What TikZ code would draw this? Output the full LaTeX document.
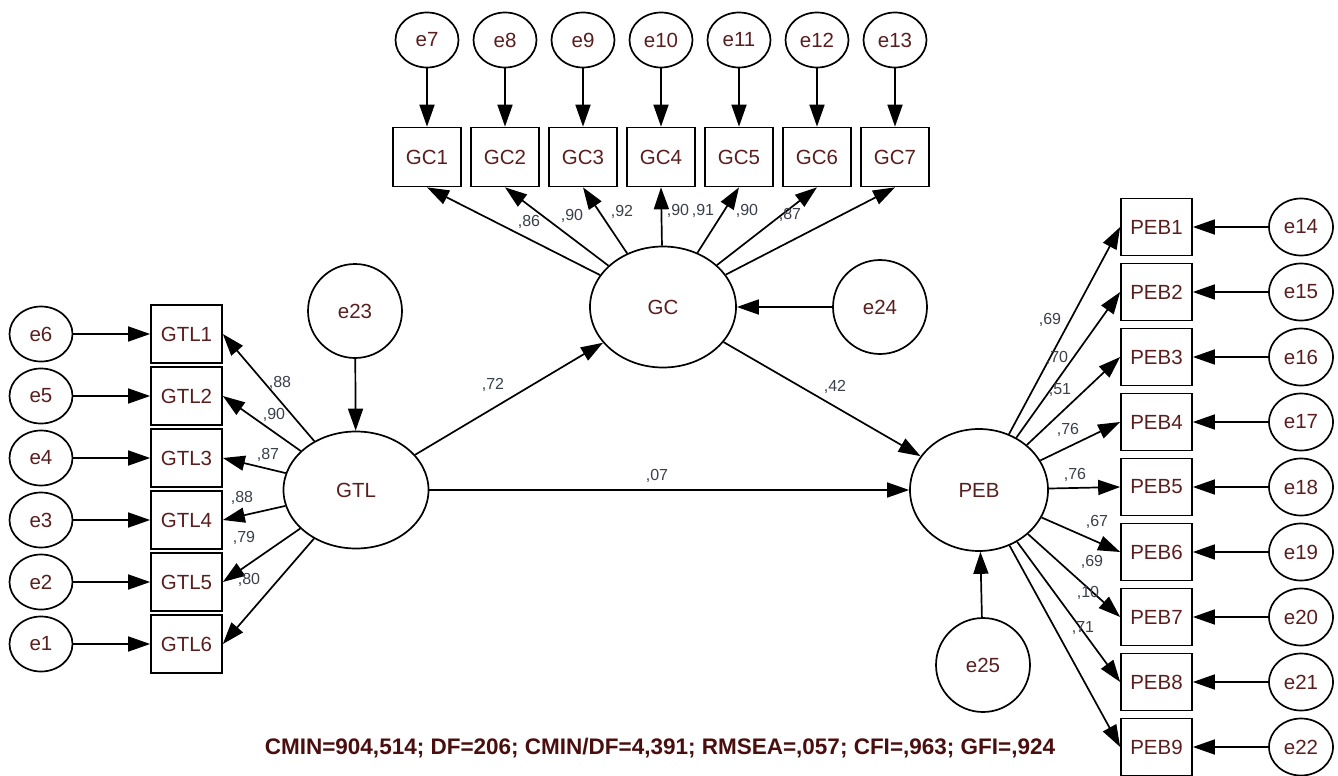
\documentclass[tikz,border=0pt]{standalone}
\usepackage{fontspec}
\setmainfont{Liberation Sans}
\usetikzlibrary{arrows.meta,shapes.geometric}
\definecolor{nodetxt}{HTML}{5A1E1E}
\definecolor{lbltxt}{HTML}{3A3F4A}
\definecolor{fittxt}{HTML}{4A0E0E}
\begin{document}
\begin{tikzpicture}[x=1pt,y=-1pt,
  obs/.style={draw, line width=1.7pt, minimum width=68pt, minimum height=59pt, inner sep=0pt, text=nodetxt, font=\fontsize{20.5}{20.5}\selectfont},
  lat/.style={draw, ellipse, line width=1.7pt, inner sep=0pt, text=nodetxt, font=\fontsize{20.5}{20.5}\selectfont},
  errs/.style={draw, ellipse, line width=1.7pt, minimum width=63pt, minimum height=55pt, inner sep=0pt, text=nodetxt, font=\fontsize{20.5}{20.5}\selectfont},
  errbig/.style={errs, minimum width=94pt, minimum height=94pt},
  arr/.style={-{Triangle[length=22pt,width=15pt]}, line width=1.7pt},
  coef/.style={text=lbltxt, font=\fontsize{16}{16}\selectfont, inner sep=0pt}
]
\useasboundingbox (0,0) rectangle (1338,776);
% latent variables
\node[lat, minimum width=146pt, minimum height=121pt] (GC) at (663,307) {GC};
\node[lat, minimum width=145pt, minimum height=117pt] (GTL) at (356,490) {GTL};
\node[lat, minimum width=138pt, minimum height=122pt] (PEB) at (979,490) {PEB};
\node[errbig] (e23) at (355,311) {e23};
\node[errbig] (e24) at (880,307) {e24};
\node[errbig] (e25) at (983,665) {e25};
% GC indicators
\foreach \i in {1,...,7}{
  \pgfmathsetmacro{\xx}{427+(\i-1)*78}
  \pgfmathtruncatemacro{\ee}{\i+6}
  \node[obs] (GC\i) at (\xx,157) {GC\i};
  \node[errs] (e\ee) at (\xx,40) {e\ee};
  \draw[arr] (e\ee) -- (GC\i.north);
  \draw[arr] (GC) -- (GC\i.south);
}
% GTL indicators
\foreach \i in {1,...,6}{
  \pgfmathsetmacro{\yy}{334+(\i-1)*62}
  \pgfmathtruncatemacro{\ee}{7-\i}
  \node[obs, minimum width=71pt, minimum height=58pt] (GTL\i) at (186.5,\yy) {GTL\i};
  \node[errs] (e\ee) at (41,\yy) {e\ee};
  \draw[arr] (e\ee) -- (GTL\i.west);
  \draw[arr] (GTL) -- (GTL\i.east);
}
% PEB indicators
\foreach \i in {1,...,9}{
  \pgfmathsetmacro{\yy}{227+(\i-1)*65}
  \pgfmathtruncatemacro{\ee}{13+\i}
  \node[obs, minimum width=71pt, minimum height=57pt] (PEB\i) at (1156.5,\yy) {PEB\i};
  \node[errs, minimum width=64pt, minimum height=57pt] (e\ee) at (1301,\yy) {e\ee};
  \draw[arr] (e\ee) -- (PEB\i.east);
  \draw[arr] (PEB) -- (PEB\i.west);
}
% structural paths
\draw[arr] (GTL) -- (GC);
\draw[arr] (GTL) -- (PEB);
\draw[arr] (GC) -- (PEB);
\draw[arr] (e23) -- (GTL);
\draw[arr] (e24) -- (GC);
\draw[arr] (e25) -- (PEB);
% coefficients
\node[coef] (c72) at (493,385) {,72};
\node[coef] (c42) at (835,387) {,42};
\node[coef] (c07) at (657,476) {,07};
\node[coef] (g1) at (529,222) {,86};
\node[coef] (g2) at (572,216) {,90};
\node[coef] (g3) at (622,212) {,92};
\node[coef] (g4) at (678,211) {,90};
\node[coef] (g5) at (703,211) {,91};
\node[coef] (g6) at (747,211) {,90};
\node[coef] (g7) at (790,215) {,87};
\node[coef] (t1) at (280,383) {,88};
\node[coef] (t2) at (274,415) {,90};
\node[coef] (t3) at (268,455) {,87};
\node[coef] (t4) at (242,498) {,88};
\node[coef] (t5) at (244,538) {,79};
\node[coef] (t6) at (249,580) {,80};
\node[coef] (p1) at (1050,320) {,69};
\node[coef] (p2) at (1057,358) {,70};
\node[coef] (p3) at (1060,390) {,51};
\node[coef] (p4) at (1068,430) {,76};
\node[coef] (p5) at (1075,475) {,76};
\node[coef] (p6) at (1097,522) {,67};
\node[coef] (p7) at (1092,562) {,69};
\node[coef] (p8) at (1088,593) {,10};
\node[coef] (p9) at (1083,628) {,71};
% fit indices
\node[text=fittxt, font=\bfseries\fontsize{22.5}{22.5}\selectfont, inner sep=0pt] (fit) at (660,748) {CMIN=904,514; DF=206; CMIN/DF=4,391; RMSEA=,057; CFI=,963; GFI=,924};
\end{tikzpicture}
\end{document}
